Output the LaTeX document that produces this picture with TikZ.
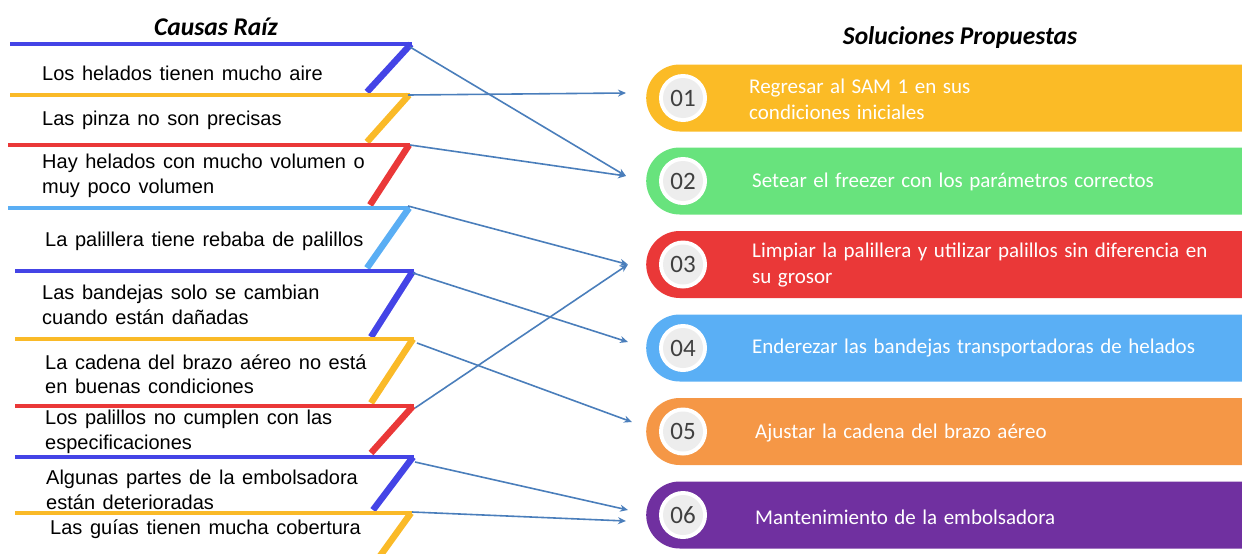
\documentclass[tikz,border=0pt]{standalone}
\usepackage{fontspec}
\setmainfont{Liberation Sans}
\newfontfamily\solfont{Carlito}
\newcommand{\causefont}{\fontsize{20}{24.5}\selectfont\spaceskip=0.38em plus 0.1em\relax}
\newcommand{\solsize}{\solfont\fontsize{21}{26}\selectfont\spaceskip=0.31em plus 0.1em\relax}
\definecolor{stripeblue}{RGB}{68, 68, 230}
\definecolor{stripegold}{RGB}{250, 186, 40}
\definecolor{stripered}{RGB}{234, 56, 56}
\definecolor{stripesky}{RGB}{90, 174, 244}
\definecolor{pillgold}{RGB}{251, 187, 38}
\definecolor{pillgreen}{RGB}{104, 227, 125}
\definecolor{pillred}{RGB}{234, 56, 56}
\definecolor{pillsky}{RGB}{90, 175, 245}
\definecolor{pillorange}{RGB}{245, 151, 70}
\definecolor{pillpurple}{RGB}{112, 48, 160}
\definecolor{linkblue}{RGB}{74, 126, 187}
\definecolor{numgray}{RGB}{64, 64, 64}
\usetikzlibrary{shapes.misc, arrows.meta, positioning}
\tikzset{
    causetxt/.style={anchor=west, align=left, inner sep=0pt, font=\causefont},
    ledge/.style={line width=3.5pt},
    lslant/.style={line width=6.5pt},
    pill/.style={rounded rectangle, rounded rectangle right arc=none, anchor=west,
                 minimum width=596pt, minimum height=67pt, inner sep=0pt},
    numdot/.style={circle, fill=white, minimum size=48pt, inner sep=0pt},
    numtxt/.style={circle, fill=black!7, minimum size=40pt, inner sep=0pt, text=numgray,
                   font=\solfont\fontsize{25}{25}\selectfont},
    soltxt/.style={anchor=west, align=left, inner sep=0pt, text=white, font=\solsize},
    titletxt/.style={font=\solfont\bfseries\itshape\fontsize{25.5}{25.5}\selectfont},
    link/.style={-{Stealth[length=8pt, width=7pt]}, line width=1.6pt, linkblue},
}

\begin{document}
\begin{tikzpicture}[x=1pt, y=-1pt]
            \useasboundingbox (0,0) rectangle (1242,554);
            \node[titletxt] (ctitle) at (216,27) {Causas Raíz};
            \node[titletxt] (stitle) at (960,38) {Soluciones Propuestas};

            % root causes
            \draw[ledge, stripeblue] (10,44) -- (412,44);
            \draw[lslant, stripeblue] (411,44) -- (367,92);
            \draw[ledge, stripegold] (10,95) -- (410,95);
            \draw[lslant, stripegold] (409,95) -- (367,142);
            \draw[ledge, stripered] (8,145) -- (410,145);
            \draw[lslant, stripered] (409,145) -- (370,205);
            \draw[ledge, stripesky] (8,208) -- (410,208);
            \draw[lslant, stripesky] (409,208) -- (367,268);
            \draw[ledge, stripeblue] (15,271) -- (414,271);
            \draw[lslant, stripeblue] (413,271) -- (371,337);
            \draw[ledge, stripegold] (15,339) -- (414,339);
            \draw[lslant, stripegold] (413,339) -- (371,403);
            \draw[ledge, stripered] (15,406) -- (414,406);
            \draw[lslant, stripered] (413,406) -- (371,453);
            \draw[ledge, stripeblue] (15,457) -- (414,457);
            \draw[lslant, stripeblue] (413,457) -- (373,510);
            \draw[ledge, stripegold] (15,513) -- (412,513);
            \draw[lslant, stripegold] (411,513) -- (380,556);

            \coordinate (c1) at (410,47);
            \coordinate (c2) at (408,95);
            \coordinate (c3) at (410,145);
            \coordinate (c4) at (408,206);
            \coordinate (c5) at (413,273);
            \coordinate (c6) at (417,343);
            \coordinate (c7) at (415,408);
            \coordinate (c8) at (415,462);
            \coordinate (c9) at (412,512);

            \node[causetxt] (k1) at (42,73) {Los helados tienen mucho aire};
            \node[causetxt] (k2) at (42,120) {Las pinza no son precisas};
            \node[causetxt] (k3) at (42,176) {Hay helados con mucho volumen o\\muy poco volumen};
            \node[causetxt] (k4) at (45,241) {La palillera tiene rebaba de palillos};
            \node[causetxt] (k5) at (42,305) {Las bandejas solo se cambian\\cuando están dañadas};
            \node[causetxt] (k6) at (45,374) {La cadena del brazo aéreo no está\\en buenas condiciones};
            \node[causetxt] (k7) at (45,432) {Los palillos no cumplen con las\\especificaciones};
            \node[causetxt] (k8) at (46,490) {Algunas partes de la embolsadora\\están deterioradas};
            \node[causetxt] (k9) at (50,529) {Las guías tienen mucha cobertura};

            % proposed solutions
            \node[pill, fill=pillgold] (s1) at (646,98) {};
            \node[pill, fill=pillgreen] (s2) at (646,181) {};
            \node[pill, fill=pillred] (s3) at (646,264.5) {};
            \node[pill, fill=pillsky] (s4) at (646,348) {};
            \node[pill, fill=pillorange] (s5) at (646,431.5) {};
            \node[pill, fill=pillpurple] (s6) at (646,515) {};

            \node[numdot] (d1) at (683,98) {};
            \node[numdot] (d2) at (683,181) {};
            \node[numdot] (d3) at (683,264.5) {};
            \node[numdot] (d4) at (683,348) {};
            \node[numdot] (d5) at (683,431.5) {};
            \node[numdot] (d6) at (683,515) {};
            \node[numtxt] (n1) at (d1) {01};
            \node[numtxt] (n2) at (d2) {02};
            \node[numtxt] (n3) at (d3) {03};
            \node[numtxt] (n4) at (d4) {04};
            \node[numtxt] (n5) at (d5) {05};
            \node[numtxt] (n6) at (d6) {06};

            \node[soltxt] (t1) at (749,99) {Regresar al SAM 1 en sus\\condiciones iniciales};
            \node[soltxt] (t2) at (752,182) {Setear el freezer con los parámetros correctos};
            \node[soltxt] (t3) at (752,265) {Limpiar la palillera y utilizar palillos sin diferencia en\\su grosor};
            \node[soltxt] (t4) at (752,348) {Enderezar las bandejas transportadoras de helados};
            \node[soltxt] (t5) at (755,433) {Ajustar la cadena del brazo aéreo};
            \node[soltxt] (t6) at (755,517) {Mantenimiento de la embolsadora};

            \draw[link] (c1) -- ([xshift=-20pt, yshift=5pt]s2.west);
            \draw[link] (c2) -- ([xshift=-20pt, yshift=5pt]s1.west);
            \draw[link] (c3) -- ([xshift=-20pt, yshift=5pt]s2.west);
            \draw[link] (c4) -- ([xshift=-18pt]s3.west);
            \draw[link] (c5) -- ([xshift=-18pt, yshift=6pt]s4.west);
            \draw[link] (c6) -- ([xshift=-14pt, yshift=9.5pt]s5.west);
            \draw[link] (c7) -- ([xshift=-18pt]s3.west);
            \draw[link] (c8) -- ([xshift=-18pt, yshift=5pt]s6.west);
            \draw[link] (c9) -- ([xshift=-20pt, yshift=-6pt]s6.west);
        \end{tikzpicture}
\end{document}
